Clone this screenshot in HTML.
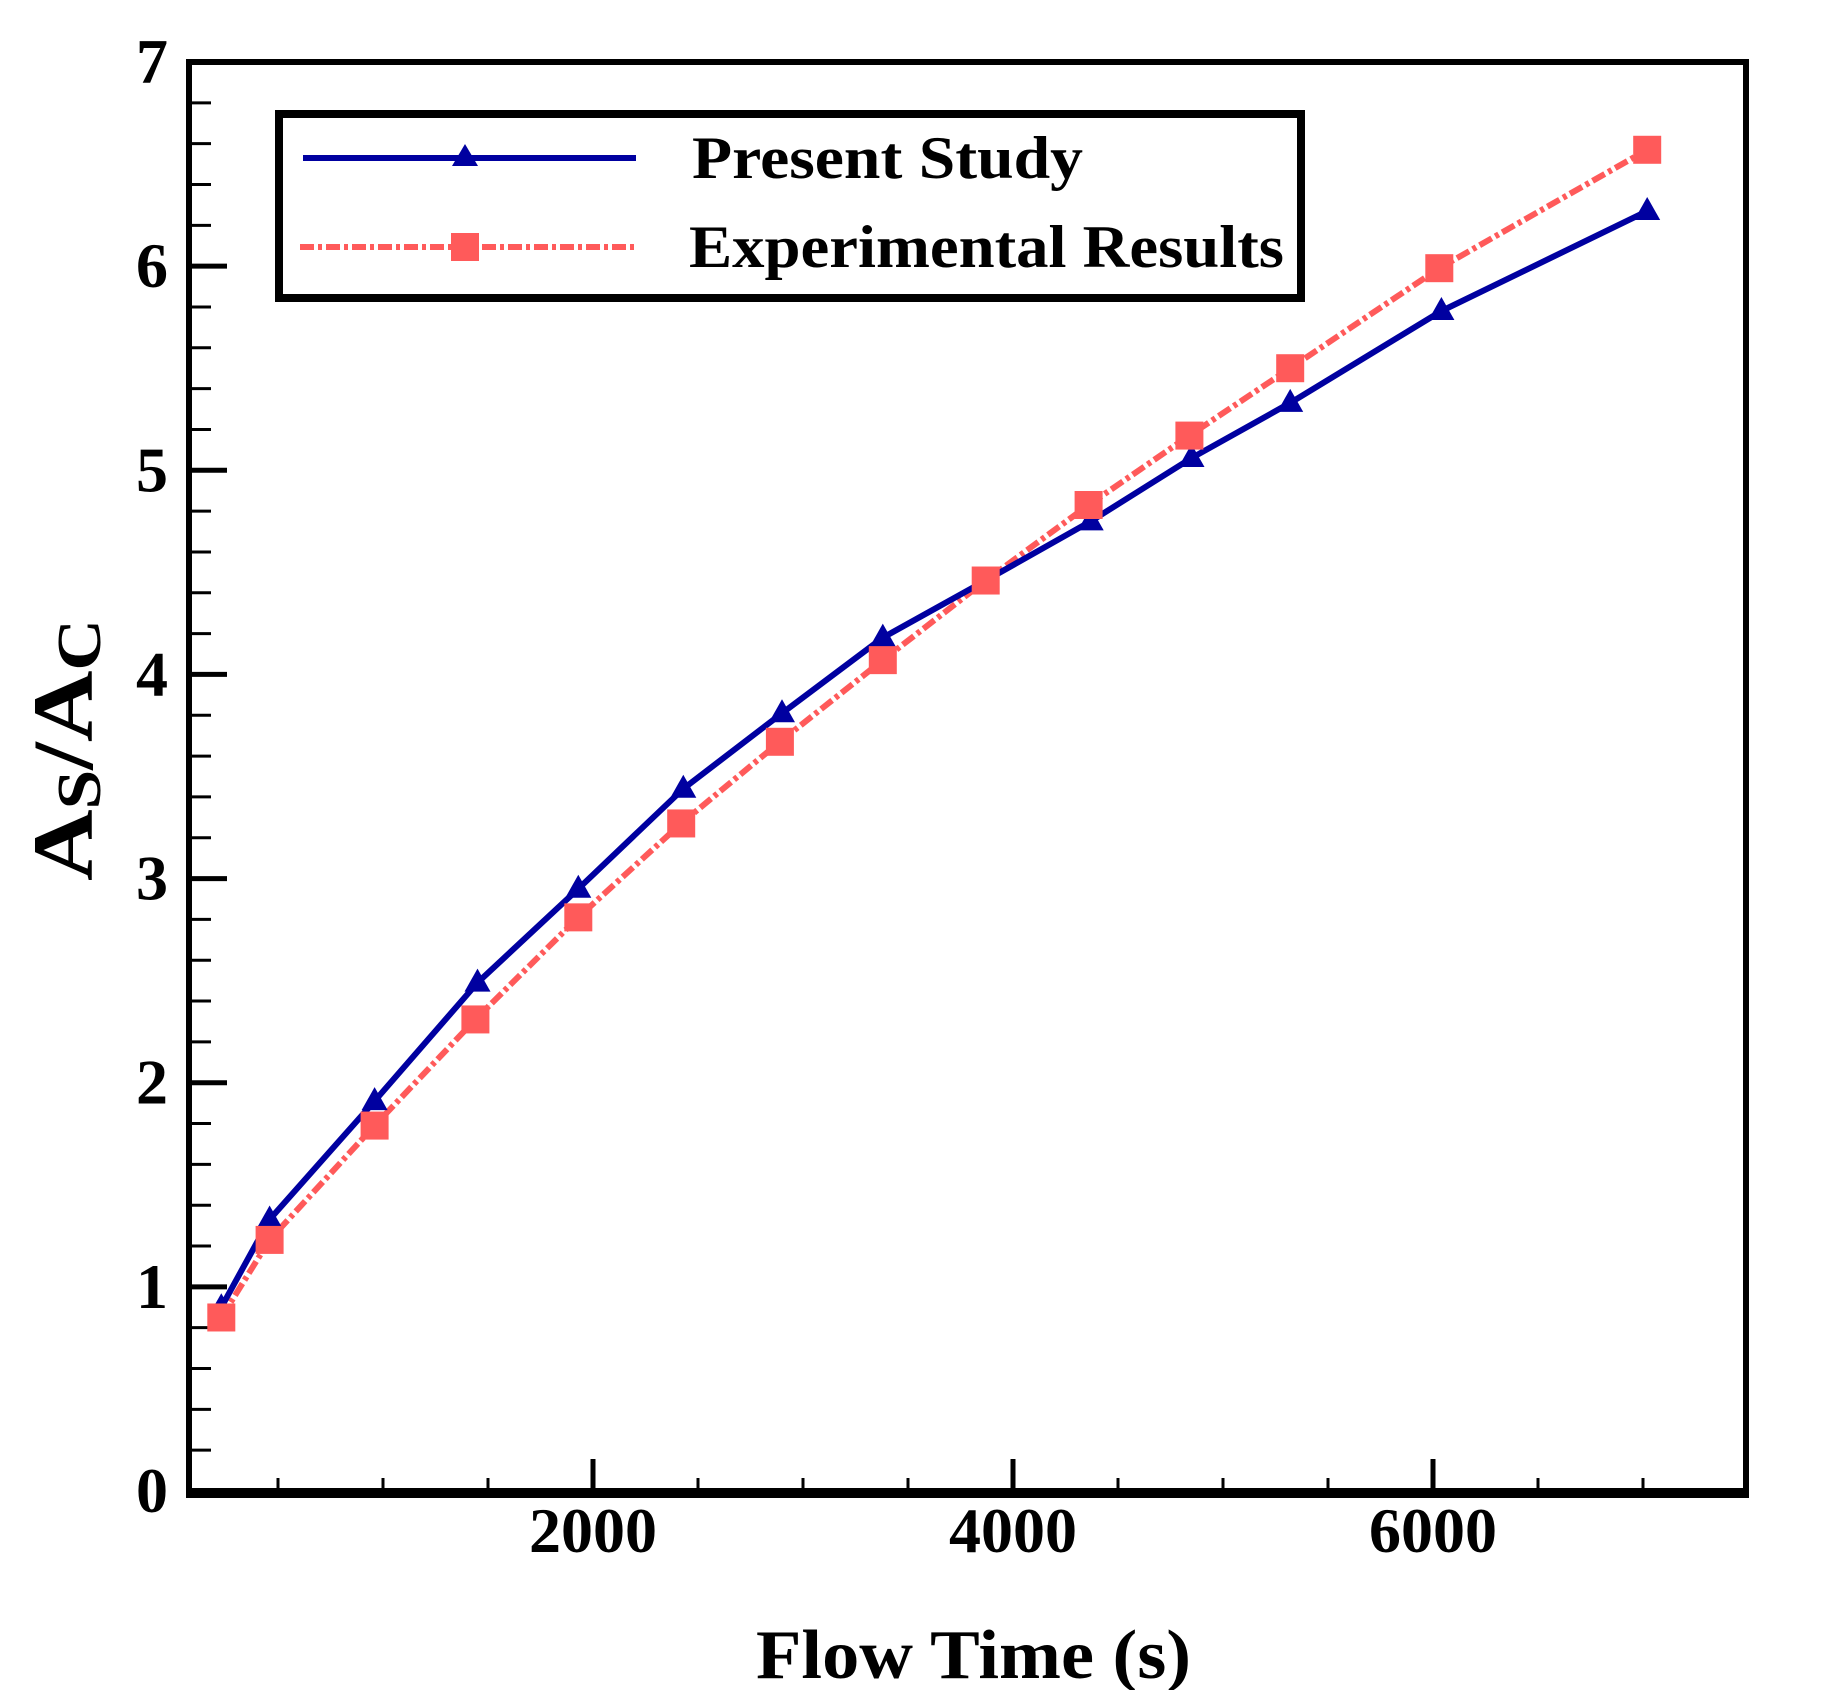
<!DOCTYPE html>
<html><head><meta charset="utf-8"><style>
html,body{margin:0;padding:0;background:#fff;}
svg{display:block;}
text{font-family:"Liberation Serif",serif;font-weight:bold;fill:#000;}
</style></head><body>
<svg id="chart" width="1821" height="1690" viewBox="0 0 1821 1690" xmlns="http://www.w3.org/2000/svg">
<g id="axes"></g>
<g id="series"></g>
<g id="legend">
  <rect x="279" y="114" width="1022" height="184" fill="#fff" stroke="#000" stroke-width="8"/>
  <line x1="303" y1="158" x2="636" y2="158" stroke="#0000a0" stroke-width="6"/>
  <polygon points="465,144 478,166 452,166" fill="#0000a0"/>
  <text x="692" y="178" font-size="60" textLength="391" lengthAdjust="spacingAndGlyphs">Present Study</text>
  <line x1="300" y1="247" x2="636" y2="247" stroke="#ff5a5a" stroke-width="6" stroke-dasharray="14,4,4,4"/>
  <rect x="451" y="233" width="28" height="28" fill="#ff5a5a"/>
  <text x="689" y="267" font-size="60" textLength="595" lengthAdjust="spacingAndGlyphs">Experimental Results</text>
</g>
<text x="756" y="1678" font-size="70" textLength="435" lengthAdjust="spacingAndGlyphs">Flow Time (s)</text>
<text transform="translate(92,881) rotate(-90)" font-size="86" textLength="262" lengthAdjust="spacingAndGlyphs">A<tspan font-size="62" dy="8">S</tspan><tspan dy="-8">/A</tspan><tspan font-size="62" dy="8">C</tspan></text>
</svg>
<script>
const xTickValues = [2000, 4000, 6000];
const xTickLabels = ["2000", "4000", "6000"];
const yTickValues = [0, 1, 2, 3, 4, 5, 6, 7];
const yTickLabels = ["0", "1", "2", "3", "4", "5", "6", "7"];
const timesPresent = [230, 460, 960, 1450, 1930, 2430, 2900, 3380, 3870, 4370, 4850, 5320, 6040, 7020];
const valuesPresent = [0.90, 1.33, 1.91, 2.49, 2.95, 3.44, 3.81, 4.18, 4.46, 4.75, 5.06, 5.33, 5.78, 6.27];
const timesExperimental = [230, 460, 960, 1440, 1930, 2420, 2890, 3380, 3870, 4360, 4840, 5320, 6030, 7020];
const valuesExperimental = [0.85, 1.23, 1.79, 2.31, 2.81, 3.27, 3.67, 4.07, 4.46, 4.83, 5.17, 5.50, 5.99, 6.57];

const NS = "http://www.w3.org/2000/svg";
const L = 189, T = 62, R = 1746, B = 1491;
function xs(v){ return 593 + (v - 2000) * 0.21; }
function ys(v){ return B - v * (B - T) / 7; }
function mk(tag, attrs, parent){
  const e = document.createElementNS(NS, tag);
  for (const k in attrs) e.setAttribute(k, attrs[k]);
  parent.appendChild(e); return e;
}
const axes = document.getElementById('axes');
const series = document.getElementById('series');

let f = mk('rect', {x:L, y:T, width:R-L, height:B-T, fill:'none', stroke:'#000', 'stroke-width':6}, axes);


let bl = mk('line', {x1:L-3, y1:B+2, x2:R+3, y2:B+2, stroke:'#000', 'stroke-width':10}, axes);



for (let v = 500; v <= 7000; v += 500) {
  const major = v % 2000 === 0;
  const t = mk('line', {x1:xs(v), y1:B, x2:xs(v), y2:B-(major?32:13), stroke:'#000', 'stroke-width':major?5:3}, axes);
  
  
}
xTickValues.forEach((v, i) => {
  const t = mk('text', {x:xs(v), y:B+61, 'font-size':64, 'text-anchor':'middle'}, axes);
  t.textContent = xTickLabels[i];
  
  
});
for (let k = 1; k < 35; k++) {
  const v = k * 0.2;
  const major = k % 5 === 0;
  const t = mk('line', {x1:L, y1:ys(v), x2:L+(major?38:22), y2:ys(v), stroke:'#000', 'stroke-width':major?5:3}, axes);
  
  
}
yTickValues.forEach((v, i) => {
  const t = mk('text', {x:168, y:ys(v)+21, 'font-size':64, 'text-anchor':'end'}, axes);
  t.textContent = yTickLabels[i];
  
  
});

let pts = timesExperimental.map((t, i) => xs(t) + ',' + ys(valuesExperimental[i])).join(' ');
let pe = mk('polyline', {points:pts, fill:'none', stroke:'#ff5a5a', 'stroke-width':6, 'stroke-dasharray':'14,4,4,4'}, series);


pts = timesPresent.map((t, i) => xs(t) + ',' + ys(valuesPresent[i])).join(' ');
let pp = mk('polyline', {points:pts, fill:'none', stroke:'#0000a0', 'stroke-width':6}, series);


timesPresent.forEach((t, i) => {
  const x = xs(t), y = ys(valuesPresent[i]);
  const m = mk('polygon', {points:`${x},${y-14} ${x+13},${y+9} ${x-13},${y+9}`, fill:'#0000a0'}, series);
  
  
});
timesExperimental.forEach((t, i) => {
  const x = xs(t), y = ys(valuesExperimental[i]);
  const m = mk('rect', {x:x-14, y:y-14, width:28, height:28, fill:'#ff5a5a'}, series);
  
  
});
</script>
</body></html>
